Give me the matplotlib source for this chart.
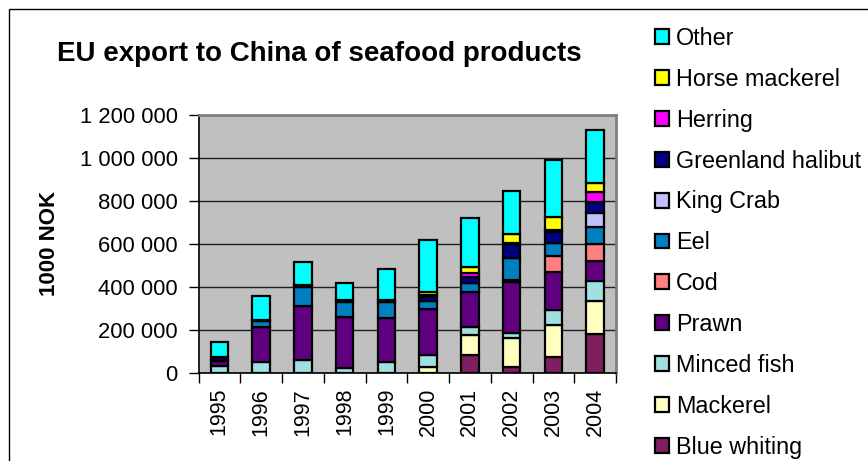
import matplotlib
matplotlib.use("Agg")
import matplotlib.pyplot as plt
from matplotlib.patches import Rectangle, Patch
from matplotlib.ticker import FuncFormatter, FixedLocator
import numpy as np

plt.rcParams['font.family'] = ['Liberation Sans', 'DejaVu Sans']

# EU export to China of seafood products, 1000 NOK
years = ["1995", "1996", "1997", "1998", "1999", "2000", "2001", "2002", "2003", "2004"]

blue_whiting = [0, 0, 0, 0, 0, 0, 82000, 25000, 71000, 180000]
mackerel = [0, 0, 0, 0, 0, 25000, 93000, 135000, 151000, 155000]
minced_fish = [30000, 51000, 57000, 23000, 50000, 57000, 39000, 26000, 70000, 91000]
prawn = [23000, 162000, 254000, 234000, 206000, 213000, 163000, 237000, 178000, 94000]
cod = [0, 0, 0, 0, 0, 0, 0, 10000, 72000, 77000]
eel = [8000, 26000, 88000, 71000, 74000, 40000, 38000, 99000, 63000, 79000]
king_crab = [0, 0, 0, 0, 0, 0, 0, 0, 0, 68000]
greenland_halibut = [12000, 8000, 11000, 8000, 10000, 15000, 31000, 62000, 49000, 51000]
herring = [0, 0, 0, 0, 0, 12000, 16000, 8000, 12000, 47000]
horse_mackerel = [0, 0, 0, 0, 0, 15000, 31000, 42000, 60000, 42000]
other = [70000, 109000, 107000, 82000, 143000, 239000, 225000, 201000, 263000, 243000]

series = [
    ("Blue whiting", blue_whiting, "#7F1F5F"),
    ("Mackerel", mackerel, "#FFFFC0"),
    ("Minced fish", minced_fish, "#A0E0E0"),
    ("Prawn", prawn, "#600080"),
    ("Cod", cod, "#FF8080"),
    ("Eel", eel, "#0080C0"),
    ("King Crab", king_crab, "#C0C0FF"),
    ("Greenland halibut", greenland_halibut, "#000080"),
    ("Herring", herring, "#FF00FF"),
    ("Horse mackerel", horse_mackerel, "#FFFF00"),
    ("Other", other, "#00FFFF"),
]

W, H = 868, 461
fig = plt.figure(figsize=(W / 100, H / 100), dpi=100)
fig.patch.set_facecolor("white")

left, right, top, bottom = 198.5, 616, 114.7, 372.7
ax = fig.add_axes([left / W, 1 - bottom / H, (right - left) / W, (bottom - top) / H])
ax.set_facecolor("#C0C0C0")

x = np.arange(len(years))
base = np.zeros(len(years))
handles = []
for name, vals, color in series:
    v = np.array(vals, dtype=float)
    ax.bar(x, v, width=0.42, bottom=base, color=color, edgecolor="black",
           linewidth=1.6, zorder=3)
    base += v
    handles.append(Patch(facecolor=color, edgecolor="black", linewidth=1.6, label=name))

ax.set_xlim(-0.5, len(years) - 0.5)
ax.set_ylim(0, 1200000)
ax.yaxis.set_major_locator(FixedLocator(np.arange(0, 1200001, 200000)))
ax.yaxis.set_major_formatter(FuncFormatter(lambda v, p: f"{int(v):,}".replace(",", " ")))
ax.grid(axis="y", color="#202020", linewidth=1.0, zorder=1)
ax.set_axisbelow(True)

ax.set_xticks(x)
ax.set_xticklabels(years, rotation=90)
ax.set_xticks(np.arange(-0.5, len(years), 1.0), minor=True)
ax.tick_params(axis="x", which="major", length=0, pad=11, labelsize=15.5)
ax.tick_params(axis="x", which="minor", length=7, width=1.0, color="black")
ax.tick_params(axis="y", length=7, width=1.0, pad=8, labelsize=15.8)

for side in ("left", "bottom"):
    ax.spines[side].set_color("black")
    ax.spines[side].set_linewidth(1.2)
for side in ("top", "right"):
    ax.spines[side].set_color("#808080")
    ax.spines[side].set_linewidth(2.0)

ax.set_ylabel("1000 NOK", fontsize=16, fontweight="bold", labelpad=14)

fig.text(319 / W, 1 - 54 / H, "EU export to China of seafood products",
         fontsize=20, fontweight="bold", ha="center", va="center")

fig.legend(handles=handles[::-1], loc="upper left",
           bbox_to_anchor=(655 / W, 1 - 27 / H), frameon=False,
           fontsize=16.8, handlelength=0.6, handleheight=0.6,
           handletextpad=0.3, labelspacing=0.765, borderpad=0, borderaxespad=0)

# outer chart frame
fig.patches.append(Rectangle((9 / W, -0.1), 1.2, 1.1 - 9.5 / H,
                             transform=fig.transFigure, fill=False,
                             edgecolor="black", linewidth=1.0))

fig.savefig("out.png", dpi=100)
